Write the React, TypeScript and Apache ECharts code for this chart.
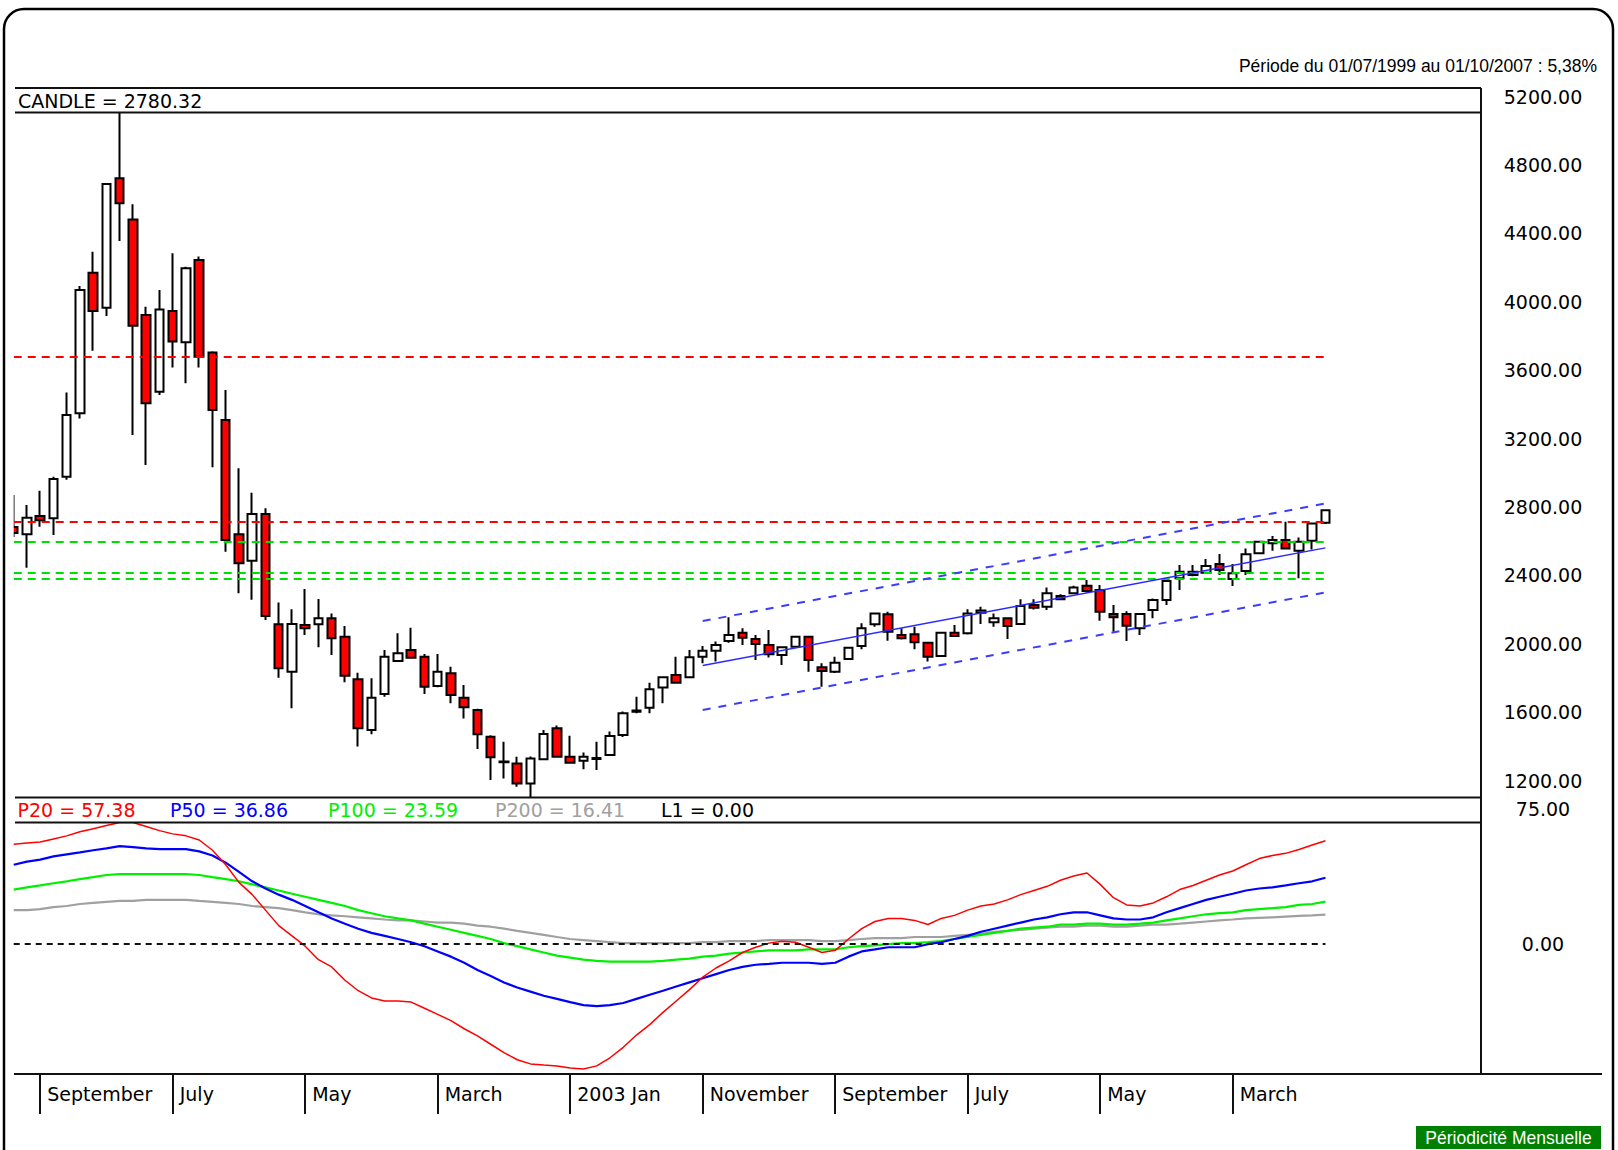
import React, { useEffect, useRef } from "react";
import * as echarts from "echarts";

// ---------- data ----------
const START_YEAR = 1999;
const START_MONTH = 7; // July 1999
const N_CANDLES = 100; // 1999-07 .. 2007-10
const N_SLOTS = 111; // empty room on the right of the last candle

const months: string[] = [];
for (let i = 0; i < N_SLOTS; i++) {
  const m0 = START_MONTH - 1 + i;
  const y = START_YEAR + Math.floor(m0 / 12);
  const m = (m0 % 12) + 1;
  months.push(`${y}-${m < 10 ? "0" + m : m}`);
}

// monthly candles: [open, high, low, close]
const candles: number[][] = [
  [2683, 2870, 2624, 2648], [2640, 2812, 2445, 2737], [2748, 2895, 2685, 2723], [2734, 2977, 2636, 2964],
  [2977, 3469, 2960, 3338], [3348, 4092, 3318, 4069], [4170, 4293, 3713, 3946], [3965, 4690, 3917, 4688],
  [4722, 5150, 4355, 4576], [4481, 4570, 3221, 3860], [3922, 3971, 3046, 3406], [3474, 4069, 3455, 3955],
  [3946, 4283, 3616, 3767], [3763, 4205, 3523, 4196], [4244, 4265, 3616, 3678], [3704, 3710, 3032, 3367],
  [3309, 3484, 2539, 2607], [2640, 3026, 2295, 2471], [2486, 2884, 2257, 2759], [2759, 2792, 2140, 2162],
  [2114, 2241, 1802, 1857], [1837, 2202, 1623, 2116], [2110, 2320, 2051, 2091], [2114, 2262, 1980, 2149],
  [2149, 2178, 1934, 2032], [2042, 2104, 1775, 1814], [1793, 1831, 1399, 1506], [1496, 1799, 1471, 1685],
  [1707, 1964, 1691, 1925], [1899, 2062, 1895, 1945], [1964, 2094, 1915, 1919], [1925, 1940, 1707, 1749],
  [1753, 1940, 1746, 1837], [1828, 1866, 1652, 1701], [1685, 1759, 1564, 1629], [1613, 1620, 1385, 1471],
  [1457, 1465, 1204, 1337], [1312, 1428, 1213, 1308], [1301, 1340, 1164, 1184], [1184, 1341, 1080, 1330],
  [1325, 1496, 1320, 1473], [1506, 1522, 1335, 1340], [1340, 1462, 1300, 1305], [1316, 1364, 1267, 1340],
  [1327, 1428, 1262, 1333], [1350, 1487, 1345, 1461], [1467, 1604, 1455, 1594], [1603, 1691, 1594, 1610],
  [1627, 1773, 1594, 1734], [1744, 1810, 1652, 1804], [1818, 1925, 1770, 1773], [1804, 1964, 1800, 1921],
  [1925, 1987, 1886, 1960], [1960, 2013, 1896, 1993], [2016, 2155, 2007, 2051], [2065, 2091, 1993, 2036],
  [2028, 2051, 1905, 1999], [1993, 2081, 1920, 1939], [1934, 1985, 1876, 1980], [1983, 2045, 1980, 2042],
  [2042, 2045, 1837, 1905], [1863, 1886, 1749, 1841], [1837, 1925, 1830, 1890], [1911, 1980, 1905, 1977],
  [1987, 2120, 1968, 2091], [2114, 2180, 2100, 2178], [2173, 2188, 2018, 2071], [2051, 2091, 2025, 2032],
  [2056, 2100, 1968, 2009], [2007, 2010, 1896, 1925], [1929, 2068, 1925, 2065], [2065, 2110, 2040, 2046],
  [2062, 2202, 2055, 2178], [2182, 2217, 2116, 2195], [2126, 2178, 2100, 2149], [2149, 2152, 2028, 2104],
  [2116, 2260, 2110, 2221], [2227, 2260, 2200, 2211], [2217, 2330, 2198, 2295], [2279, 2290, 2255, 2260],
  [2295, 2340, 2290, 2330], [2340, 2373, 2300, 2309], [2314, 2344, 2135, 2188], [2174, 2227, 2071, 2155],
  [2174, 2190, 2016, 2106], [2091, 2180, 2051, 2174], [2198, 2265, 2149, 2256], [2256, 2383, 2227, 2368],
  [2383, 2461, 2314, 2422], [2402, 2461, 2395, 2422], [2416, 2496, 2410, 2455], [2466, 2525, 2403, 2431],
  [2379, 2466, 2338, 2412], [2426, 2558, 2403, 2523], [2529, 2600, 2523, 2597], [2588, 2630, 2544, 2607],
  [2607, 2714, 2555, 2558], [2544, 2621, 2383, 2597], [2603, 2710, 2552, 2704], [2708, 2785, 2700, 2780.32],
];

const p20 = [
  55.5, 56.1, 56.7, 58.4, 60.1, 62.4, 64.1, 65.8, 67.5, 67.5,
  65.3, 63.0, 61.2, 60.1, 57.8, 52.1, 44.1, 34.3, 27.5, 18.9,
  10.3, 4.6, -1.1, -8.6, -12.6, -20.0, -25.8, -29.8, -31.5, -31.5,
  -32.1, -35.5, -38.9, -42.4, -46.9, -50.9, -55.5, -60.1, -64.1, -66.4,
  -67.0, -67.5, -68.7, -69.2, -67.5, -63.0, -57.2, -50.4, -44.6, -37.8,
  -31.5, -25.2, -18.3, -13.2, -9.2, -4.6, -1.7, 0.6, 1.7, 1.1,
  -1.7, -4.6, -3.4, 2.9, 8.6, 12.6, 14.3, 14.3, 13.2, 10.9,
  14.3, 16.0, 18.9, 21.2, 22.3, 24.6, 27.5, 29.8, 32.1, 35.5,
  37.8, 39.5, 33.2, 25.8, 21.8, 21.2, 22.9, 26.3, 30.3, 32.6,
  35.5, 38.4, 40.6, 44.1, 47.5, 49.2, 50.4, 52.5, 55.0, 57.38,
];
const p50 = [
  44.1, 45.8, 46.9, 48.7, 49.8, 50.9, 52.1, 53.2, 54.4, 53.8,
  53.2, 52.7, 52.7, 52.7, 51.5, 49.2, 45.2, 40.1, 34.9, 30.9,
  27.5, 24.6, 21.2, 17.7, 14.3, 11.4, 8.6, 6.3, 4.6, 2.9,
  1.1, -1.1, -4.0, -6.9, -10.3, -14.3, -17.7, -21.2, -24.0, -26.3,
  -28.6, -30.3, -32.1, -33.8, -34.3, -33.8, -32.6, -30.3, -28.0, -25.8,
  -23.5, -21.2, -18.9, -16.6, -14.3, -12.6, -11.4, -10.9, -10.3, -10.3,
  -10.3, -10.9, -10.3, -6.9, -4.0, -2.9, -1.7, -1.7, -1.7, 0,
  1.1, 2.9, 4.6, 6.9, 8.6, 10.3, 12.0, 13.7, 14.9, 16.6,
  17.7, 17.7, 16.0, 14.3, 13.7, 13.7, 14.9, 17.7, 20.0, 22.3,
  24.6, 26.3, 28.0, 29.8, 30.9, 31.5, 32.6, 33.8, 34.9, 36.86,
];
const p100 = [
  30.3, 31.5, 32.6, 33.8, 34.9, 36.1, 37.2, 38.4, 38.9, 38.9,
  38.9, 38.9, 38.9, 38.9, 38.4, 37.2, 36.1, 34.9, 33.2, 31.5,
  29.8, 28.0, 26.3, 24.6, 22.9, 21.2, 18.9, 17.2, 15.5, 14.3,
  13.2, 11.4, 9.7, 8.0, 6.3, 4.6, 2.9, 0.6, -1.1, -2.9,
  -4.6, -6.3, -7.4, -8.6, -9.2, -9.7, -9.7, -9.7, -9.7, -9.2,
  -8.6, -8.0, -6.9, -6.3, -5.2, -4.6, -4.0, -3.4, -3.4, -3.4,
  -2.9, -2.9, -2.9, -1.7, -1.1, -0.6, 0, 0.6, 0.6, 1.1,
  1.7, 2.9, 4.0, 5.2, 6.3, 7.4, 8.6, 9.2, 9.7, 10.9,
  10.9, 11.4, 11.4, 10.9, 10.9, 11.4, 12.0, 13.2, 14.3, 15.5,
  16.6, 17.2, 17.7, 18.9, 19.5, 20.0, 20.6, 21.8, 22.3, 23.59,
];
const p200 = [
  18.9, 18.9, 19.5, 20.6, 21.2, 22.3, 22.9, 23.5, 24.0, 24.0,
  24.6, 24.6, 24.6, 24.6, 24.0, 23.5, 22.9, 22.3, 21.2, 20.6,
  20.0, 18.9, 17.7, 16.6, 16.0, 15.5, 14.9, 14.3, 13.7, 13.2,
  13.2, 12.6, 12.0, 12.0, 11.4, 10.3, 9.7, 8.6, 7.4, 6.3,
  5.2, 4.0, 2.9, 2.3, 1.7, 1.1, 0.6, 0.6, 0.6, 0.6,
  0.6, 0.6, 1.1, 1.1, 1.7, 1.7, 1.7, 2.3, 2.3, 2.3,
  2.3, 1.7, 1.7, 2.3, 2.9, 3.4, 3.4, 3.4, 4.0, 4.0,
  4.0, 4.6, 5.2, 5.7, 6.9, 7.4, 8.0, 8.6, 9.2, 9.7,
  9.7, 10.3, 10.3, 9.7, 9.7, 10.3, 10.9, 10.9, 11.4, 12.0,
  12.6, 13.2, 13.7, 14.3, 14.6, 14.9, 15.3, 15.7, 16.0, 16.41,
];
const l1Level = 0;

// horizontal support / resistance levels
const redLevels = [3680, 2716];
const greenLevels = [2595, 2414, 2378];
// regression channel (start index, end index, values at start / end)
const channelFrom = 52;
const channelTo = 99;
const channelMid = [1873, 2561];
const channelUp = [2133, 2821];
const channelDown = [1613, 2301];

const priceTicks = [1200, 1600, 2000, 2400, 2800, 3200, 3600, 4000, 4400, 4800, 5200];
const oscTicks = [0, 75];
const xTickIndex = [2, 12, 22, 32, 42, 52, 62, 72, 82, 92];
const xTickLabels = ["September", "July", "May", "March", "2003 Jan", "November", "September", "July", "May", "March"];

// ---------- layout ----------
const W = 1618;
const H = 1150;
const X0 = 13.72;
const STEP = 13.25;
const PLOT_W = STEP * (N_SLOTS - 1);
const FRAME_R = 1481;
const MAIN_TOP = 96.5;
const MAIN_BOTTOM = 797.5;
const PX_PER_PT = 0.17104;
const PRICE_MAX = 5200;
const PRICE_MIN = PRICE_MAX - (MAIN_BOTTOM - MAIN_TOP) / PX_PER_PT;
const OSC_TOP = 809;
const OSC_BOTTOM = 1074;
const OSC_MAX = 75;
const OSC_MIN = -72;
const LABEL_CX = 1543;

const FONT = "'DejaVu Sans', Verdana, sans-serif";
const FONT2 = "'Liberation Sans', Arial, sans-serif";

function txt(text: string, x: number, y: number, color: string, align = "left", font = FONT, size = 19) {
  return {
    type: "text",
    x,
    y,
    z: 110,
    silent: true,
    style: {
      text,
      fill: color,
      fontFamily: font,
      fontSize: size,
      align,
      verticalAlign: "middle",
      textAlign: align,
      textVerticalAlign: "middle",
    },
  };
}
function hline(x1: number, x2: number, y: number, w = 2) {
  return { type: "line", z: 105, silent: true, shape: { x1, y1: y, x2, y2: y }, style: { stroke: "#111", lineWidth: w } };
}

export default function App() {
  const ref = useRef<HTMLDivElement>(null);

  useEffect(() => {
    document.body.style.margin = "0";
    document.body.style.overflow = "hidden";
    const chart = echarts.init(ref.current!, null, { renderer: "svg" });

    const last = N_CANDLES - 1;
    const seg = (a: number, b: number, va: number, vb: number, color: string, type: any, width: number) => [
      { coord: [months[a], va], lineStyle: { color, type, width } },
      { coord: [months[b], vb] },
    ];

    const marks: any[] = [];
    redLevels.forEach((v) => marks.push(seg(0, last, v, v, "#ff0000", [8, 6], 2)));
    greenLevels.forEach((v) => marks.push(seg(0, last, v, v, "#00e000", [8, 6], 2)));
    marks.push(seg(channelFrom, channelTo, channelMid[0], channelMid[1], "#2a2aff", "solid", 1.5));
    marks.push(seg(channelFrom, channelTo, channelUp[0], channelUp[1], "#3c3cff", [8, 8], 2));
    marks.push(seg(channelFrom, channelTo, channelDown[0], channelDown[1], "#3c3cff", [8, 8], 2));

    const oscLine = (name: string, data: number[], color: string, width: number) => ({
      name,
      type: "line",
      xAxisIndex: 1,
      yAxisIndex: 1,
      data,
      showSymbol: false,
      symbol: "none",
      silent: true,
      lineStyle: { color, width },
      itemStyle: { color },
      z: 3,
    });

    const lastOf = (a: number[]) => a[a.length - 1].toFixed(2);

    const option: any = {
      animation: false,
      backgroundColor: "#ffffff",
      grid: [
        { left: X0, top: MAIN_TOP, width: PLOT_W, height: MAIN_BOTTOM - MAIN_TOP, containLabel: false, outerBoundsMode: "none" },
        { left: X0, top: OSC_TOP, width: PLOT_W, height: OSC_BOTTOM - OSC_TOP, containLabel: false, outerBoundsMode: "none" },
      ],
      xAxis: [
        {
          type: "category",
          gridIndex: 0,
          data: months,
          boundaryGap: false,
          axisLine: { show: false, onZero: false },
          axisTick: { show: false },
          axisLabel: { show: false },
          splitLine: { show: false },
        },
        {
          type: "category",
          gridIndex: 1,
          position: "bottom",
          data: months,
          boundaryGap: false,
          axisLine: { show: false, onZero: false },
          splitLine: { show: false },
          axisTick: {
            show: true,
            inside: false,
            interval: (i: number) => xTickIndex.indexOf(i) >= 0,
            length: 40,
            lineStyle: { color: "#111", width: 2 },
          },
          axisLabel: {
            show: true,
            interval: (i: number) => xTickIndex.indexOf(i) >= 0,
            formatter: (_v: string, i: number) => {
              const k = xTickIndex.indexOf(i);
              return k >= 0 ? xTickLabels[k] : "";
            },
            align: "left",
            padding: [0, 0, 0, 7],
            margin: 10,
            color: "#000",
            fontFamily: FONT,
            fontSize: 19,
          },
        },
      ],
      yAxis: [
        {
          type: "value",
          gridIndex: 0,
          position: "right",
          min: PRICE_MIN,
          max: PRICE_MAX,
          splitLine: { show: false },
          axisLine: { show: false },
          axisTick: { show: false },
          axisLabel: {
            customValues: priceTicks,
            formatter: (v: number) => v.toFixed(2),
            align: "center",
            margin: LABEL_CX - (X0 + PLOT_W),
            color: "#000",
            fontFamily: FONT,
            fontSize: 19,
          },
        },
        {
          type: "value",
          gridIndex: 1,
          position: "right",
          min: OSC_MIN,
          max: OSC_MAX,
          splitLine: { show: false },
          axisLine: { show: false },
          axisTick: { show: false },
          axisLabel: {
            customValues: oscTicks,
            formatter: (v: number) => v.toFixed(2),
            align: "center",
            margin: LABEL_CX - (X0 + PLOT_W),
            color: "#000",
            fontFamily: FONT,
            fontSize: 19,
          },
        },
      ],
      series: [
        {
          name: "CANDLE",
          type: "candlestick",
          xAxisIndex: 0,
          yAxisIndex: 0,
          data: candles.map(([o, h, l, c]) => [o, c, l, h]),
          barWidth: 9,
          clip: true,
          silent: true,
          itemStyle: {
            color: "#ffffff",
            color0: "#ff0000",
            borderColor: "#000000",
            borderColor0: "#000000",
            borderWidth: 2,
          },
          markLine: {
            silent: true,
            symbol: ["none", "none"],
            label: { show: false },
            emphasis: { disabled: true },
            data: marks,
          },
        },
        {
          ...oscLine("P200", p200, "#a0a0a0", 2.2),
          markLine: {
            silent: true,
            symbol: ["none", "none"],
            label: { show: false },
            data: [seg(0, last, l1Level, l1Level, "#111111", [6, 5], 2)],
          },
        },
        oscLine("P100", p100, "#00f000", 2.2),
        oscLine("P50", p50, "#0000ff", 2.2),
        oscLine("P20", p20, "#ff0000", 1.5),
      ],
      graphic: [
        // mask for the half candle left of the plot
        { type: "rect", z: 103, silent: true, shape: { x: 5.5, y: 112, width: X0 - 5.5, height: 686 }, style: { fill: "#fff" } },
        // outer rounded frame
        {
          type: "rect",
          z: 120,
          silent: true,
          shape: { x: 4, y: 9, width: 1609, height: 1190, r: 20 },
          style: { fill: "none", stroke: "#000", lineWidth: 2.5 },
        },
        // main header band
        { type: "rect", z: 104, silent: true, shape: { x: 14, y: 88, width: FRAME_R - 14, height: 24.5 }, style: { fill: "#fff" } },
        hline(15, FRAME_R, 88),
        hline(15, FRAME_R, 112.5),
        // indicator header band
        { type: "rect", z: 104, silent: true, shape: { x: 14, y: 797.5, width: FRAME_R - 14, height: 25 }, style: { fill: "#fff" } },
        hline(15, FRAME_R, 797.5),
        hline(15, FRAME_R, 822.5),
        // right border and bottom axis line
        { type: "line", z: 105, silent: true, shape: { x1: FRAME_R, y1: 88, x2: FRAME_R, y2: 1074 }, style: { stroke: "#111", lineWidth: 2 } },
        hline(14, 1602, 1074),
        // texts
        txt("Période du 01/07/1999 au 01/10/2007 : 5,38%", 1597, 66, "#000", "right", FONT2, 17.5),
        txt(`CANDLE = ${candles[N_CANDLES - 1][3].toFixed(2)}`, 18, 101, "#000"),
        txt(`P20 = ${lastOf(p20)}`, 17.5, 810, "#ff0000"),
        txt(`P50 = ${lastOf(p50)}`, 170, 810, "#0000ff"),
        txt(`P100 = ${lastOf(p100)}`, 328, 810, "#00f000"),
        txt(`P200 = ${lastOf(p200)}`, 495, 810, "#a0a0a0"),
        txt(`L1 = ${l1Level.toFixed(2)}`, 661, 810, "#000"),
        { type: "rect", z: 108, silent: true, shape: { x: 1416, y: 1126, width: 185, height: 23 }, style: { fill: "#008000" } },
        txt("Périodicité Mensuelle", 1508.5, 1138, "#ffffff", "center", FONT2, 17.5),
      ],
    };

    chart.setOption(option);
    return () => chart.dispose();
  }, []);

  return <div ref={ref} style={{ width: W, height: H, background: "#fff" }} />;
}
